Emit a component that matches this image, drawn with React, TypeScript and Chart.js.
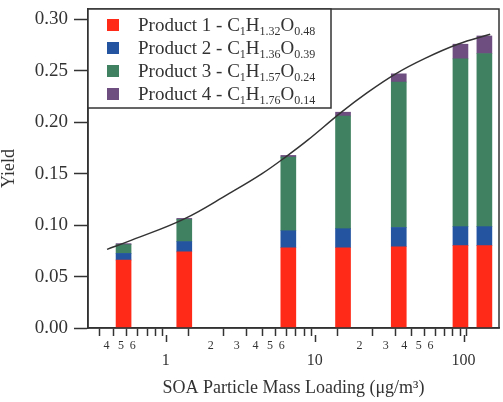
import React, { useEffect, useRef } from "react";
import { Chart, registerables } from "chart.js";

Chart.register(...registerables);

// ---- data ----
const barX = [0.52, 1.33, 6.65, 15.5, 36.7, 95.3, 138];
const product1 = [0.066, 0.074, 0.078, 0.078, 0.079, 0.080, 0.080];
const product2 = [0.0065, 0.010, 0.0165, 0.0185, 0.0187, 0.0185, 0.0185];
const product3 = [0.0085, 0.0215, 0.0715, 0.1095, 0.1413, 0.163, 0.1682];
const product4 = [0.001, 0.001, 0.0017, 0.0037, 0.008, 0.0143, 0.0171];

const curveX = [0.403, 0.589, 1.32, 2.67, 4.43, 6.63, 8.97, 15.2, 22.2, 35.0, 55.1, 91.4, 151];
const curveY = [0.0764, 0.0854, 0.1058, 0.1308, 0.150, 0.168, 0.1825, 0.210, 0.228, 0.247, 0.262, 0.2757, 0.2854];

const seriesLabels = [
  "Product 1 - C1H1.32O0.48",
  "Product 2 - C1H1.36O0.39",
  "Product 3 - C1H1.57O0.24",
  "Product 4 - C1H1.76O0.14",
];
const seriesColors = ["#FF2A18", "#2454A0", "#3F8160", "#6E4D80"];

const xTickValues = [0.4, 0.5, 0.6, 0.7, 0.8, 0.9, 1, 2, 3, 4, 5, 6, 7, 8, 9, 10, 20, 30, 40, 50, 60, 70, 80, 90, 100];
const xTickLabels = ["4", "5", "6", "", "", "", "1", "2", "3", "4", "5", "6", "", "", "", "10", "2", "3", "4", "5", "6", "", "", "", "100"];
const xMajorTicks = [1, 10, 100];
const yTickValues = [0, 0.05, 0.1, 0.15, 0.2, 0.25, 0.3];

const X_MIN = 0.345;
const X_MAX = 173;
const Y_MIN = 0;
const Y_MAX = 0.31;

const INK = "#333333";
const FONT = '"Liberation Serif", "Times New Roman", serif';

const framePlugin = {
  id: "frameAndLegend",
  afterDraw(chart: any) {
    const { ctx, chartArea } = chart;
    const xs = chart.scales.x;
    ctx.save();
    ctx.strokeStyle = INK;
    ctx.lineWidth = 1.5;
    ctx.strokeRect(chartArea.left, chartArea.top, chartArea.right - chartArea.left, chartArea.bottom - chartArea.top);
    for (const v of xMajorTicks) {
      const px = Math.round(xs.getPixelForValue(v)) + 0.5;
      ctx.beginPath();
      ctx.moveTo(px, chartArea.bottom + 7);
      ctx.lineTo(px, chartArea.bottom + 14);
      ctx.stroke();
    }
    const bx = chartArea.left;
    const by = chartArea.top;
    const bw = 243;
    const bh = 99;
    ctx.fillStyle = "#ffffff";
    ctx.fillRect(bx, by, bw, bh);
    ctx.strokeRect(bx, by, bw, bh);
    const bars = chart.data.datasets.filter((d: any) => d.type === "bar");
    bars.forEach((d: any, i: number) => {
      const cy = by + 16 + i * 23;
      ctx.fillStyle = d.backgroundColor;
      ctx.fillRect(bx + 19, cy - 6, 12, 12);
      const [prefix, formula] = d.label.split(" - ");
      let x = bx + 50;
      const base = cy + 6;
      ctx.fillStyle = INK;
      ctx.textBaseline = "alphabetic";
      ctx.textAlign = "left";
      ctx.font = `19px ${FONT}`;
      const head = prefix + " - ";
      ctx.fillText(head, x, base);
      x += ctx.measureText(head).width;
      const re = /([A-Z][a-z]?)([\d.]*)/g;
      let m: RegExpExecArray | null;
      while ((m = re.exec(formula)) !== null) {
        ctx.font = `19px ${FONT}`;
        ctx.fillText(m[1], x, base);
        x += ctx.measureText(m[1]).width;
        if (m[2]) {
          ctx.font = `12px ${FONT}`;
          ctx.fillText(m[2], x, base + 4);
          x += ctx.measureText(m[2]).width;
        }
      }
    });
    ctx.restore();
  },
};

export default function App() {
  const canvasRef = useRef<HTMLCanvasElement | null>(null);

  useEffect(() => {
    if (!canvasRef.current) return;
    Chart.defaults.font.family = FONT;
    Chart.defaults.color = INK;
    const barSets = [product1, product2, product3, product4].map((vals, i) => ({
      type: "bar" as const,
      label: seriesLabels[i],
      data: barX.map((x, j) => ({ x, y: vals[j] })),
      backgroundColor: seriesColors[i],
      borderWidth: 0,
      barThickness: 15,
      stack: "bars",
      order: 1,
    }));
    const zeroPad = (s: any) => {
      s.paddingTop = 0;
      s.paddingBottom = 0;
      s.paddingLeft = 0;
      s.paddingRight = 0;
    };
    const chart = new Chart(canvasRef.current, {
      type: "bar",
      data: {
        datasets: [
          ...barSets,
          {
            type: "line" as const,
            label: "fit",
            data: curveX.map((x, j) => ({ x, y: curveY[j] })),
            borderColor: INK,
            borderWidth: 1.5,
            pointRadius: 0,
            tension: 0.4,
            fill: false,
            stack: "curve",
            order: 0,
          },
        ] as any,
      },
      options: {
        animation: false,
        responsive: false,
        layout: { padding: { left: 0, top: 9, right: 4, bottom: 0 } },
        plugins: { legend: { display: false }, tooltip: { enabled: false } },
        scales: {
          x: {
            type: "logarithmic",
            stacked: true,
            min: X_MIN,
            max: X_MAX,
            afterBuildTicks: (s: any) => {
              s.ticks = xTickValues.map((v) => ({ value: v }));
            },
            afterFit: (s: any) => {
              s.height = 74;
              zeroPad(s);
            },
            grid: {
              drawOnChartArea: false,
              drawTicks: true,
              tickLength: 8,
              tickColor: INK,
              tickWidth: 1.5,
            },
            border: { display: true, color: INK, width: 1.5 },
            ticks: {
              autoSkip: false,
              maxRotation: 0,
              minRotation: 0,
              padding: 3,
              color: INK,
              callback: (_v: any, i: number) => xTickLabels[i],
              font: (c: any) => {
                const isMajor = c.tick && xMajorTicks.includes(c.tick.value);
                return isMajor
                  ? { size: 16, lineHeight: 2.75, family: FONT }
                  : { size: 12, lineHeight: 1.2, family: FONT };
              },
            },
            title: {
              display: true,
              text: "SOA Particle Mass Loading (μg/m³)",
              color: INK,
              font: { size: 18, lineHeight: 1.2, family: FONT },
              padding: { top: 0, bottom: 3 },
            },
          },
          y: {
            type: "linear",
            stacked: true,
            min: Y_MIN,
            max: Y_MAX,
            afterBuildTicks: (s: any) => {
              s.ticks = yTickValues.map((v) => ({ value: v }));
            },
            afterFit: (s: any) => {
              s.width = 88;
              zeroPad(s);
            },
            grid: {
              drawOnChartArea: false,
              drawTicks: true,
              tickLength: 14,
              tickColor: INK,
              tickWidth: 1.5,
            },
            border: { display: true, color: INK, width: 1.5 },
            ticks: {
              padding: 6,
              color: INK,
              font: { size: 19, family: FONT },
              callback: (v: any) => Number(v).toFixed(2),
            },
            title: {
              display: true,
              text: "Yield",
              color: INK,
              font: { size: 18, lineHeight: 1, family: FONT },
              padding: { top: 0, bottom: 0 },
            },
          },
        },
      },
      plugins: [framePlugin],
    });
    return () => chart.destroy();
  }, []);

  return (
    <div style={{ position: "fixed", left: 0, top: 0, width: 503, height: 402, background: "#fff" }}>
      <canvas ref={canvasRef} width={503} height={402} style={{ display: "block" }} />
    </div>
  );
}
